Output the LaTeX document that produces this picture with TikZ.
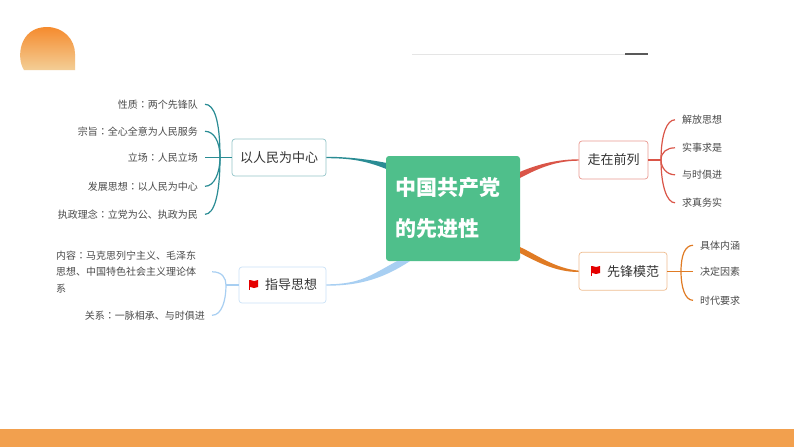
\documentclass[tikz,border=0pt]{standalone}
\usepackage{fontspec}
\setmainfont{Noto Sans CJK SC}
\newfontfamily\colonfont{Noto Sans CJK TC}
\newcommand{\cln}{{\colonfont ：}}
\newcommand{\toptxt}[1]{\raisebox{-1pt}{#1}}
\definecolor{rootgreen}{HTML}{4FBF8B}
\definecolor{tealline}{HTML}{2A8C94}
\definecolor{blueline}{HTML}{A8CFF2}
\definecolor{redline}{HTML}{DA5548}
\definecolor{orangeline}{HTML}{E07B24}
\definecolor{leafgray}{HTML}{4A4A4A}
\definecolor{suntop}{HTML}{F58B2E}
\definecolor{sunlow}{HTML}{F3CE96}
\definecolor{barorange}{HTML}{F2A04E}
\tikzset{
    topic/.style={draw,rounded corners=3pt,fill=white,inner xsep=0pt,inner ysep=0pt,
        font=\fontsize{13}{15}\selectfont,text=black!80,line width=.7pt},
    leafleft/.style={anchor=east,inner xsep=7pt,inner ysep=0pt,yshift=-.8pt,
        font=\fontsize{10}{16.5}\selectfont,text=leafgray},
    leafright/.style={anchor=west,inner xsep=7pt,inner ysep=0pt,yshift=-.8pt,
        font=\fontsize{10}{16.5}\selectfont,text=leafgray},
    twig/.style={line width=1.2pt},
    flagmark/.pic={
        \fill[red!90!black] (0,0) rectangle (1.2,10);
        \fill[red!90!black] (1.2,0) -- (5,1) -- (9,0) -- (9,7) -- (5,8) -- (1.2,7) -- cycle;
    }
}
\begin{document}
\begin{tikzpicture}[x=1pt,y=-1pt]
    \useasboundingbox (0,0) rectangle (794,447);
    \fill[white] (0,0) rectangle (794,447);
    \shade[top color=suntop,bottom color=sunlow]
        (24,70) .. controls (16,58) and (19,27) .. (47,27)
        .. controls (63,27) and (75,39) .. (75,54) -- (75,70) -- cycle;
    \draw[black!10,line width=.6pt] (412,54) -- (625,54);
    \draw[black!65,line width=1.8pt] (625,54) -- (648,54);
    \fill[barorange] (0,429) rectangle (794,447);

    \node[fill=rootgreen,rounded corners=3pt,minimum width=134pt,minimum height=105pt,
        text width=116pt,inner xsep=9pt,align=left,text=white,
        font=\fontsize{21}{40}\selectfont\bfseries] (root) at (453,208.5)
        {\raisebox{-1pt}{中国共产党}\\\raisebox{-2pt}{的先进性}};

    \node[topic,draw=tealline!50,minimum width=94pt,minimum height=37pt] (people) at (279,157.5) {\toptxt{以人民为中心}};
    \node[topic,draw=blueline!60,minimum width=87pt,minimum height=36pt] (guide) at (282.5,285) {\hspace*{17pt}\toptxt{指导思想}};
    \node[topic,draw=redline!60,minimum width=69pt,minimum height=38pt] (front) at (613.5,160) {\toptxt{走在前列}};
    \node[topic,draw=orangeline!50,minimum width=88pt,minimum height=38pt] (model) at (623,271.3) {\hspace*{20pt}\toptxt{先锋模范}};
    \pic at (249,280) {flagmark};
    \pic at (591,266) {flagmark};

    \coordinate (forka) at (220,157.5);
    \coordinate (forkb) at (226,285);
    \coordinate (forkc) at (661,160);
    \coordinate (forkd) at (681,271.3);

    % left upper
    \node[leafleft] (pa) at (205,103.5) {性质\cln 两个先锋队};
    \node[leafleft] (pb) at (205,130.5) {宗旨\cln 全心全意为人民服务};
    \node[leafleft] (pc) at (205,156.7) {立场\cln 人民立场};
    \node[leafleft] (pd) at (205,185.5) {发展思想\cln 以人民为中心};
    \node[leafleft] (pe) at (205,213.5) {执政理念\cln 立党为公、执政为民};
    \foreach \n/\d in {pa/-38,pb/-16,pd/16,pe/38}
        \draw[twig,tealline] (\n.east) .. controls +(9,0) and +(0,\d) .. (forka);
    \draw[twig,tealline] (pc.east) -- (people.west);

    % left lower
    \node[leafleft,text width=149pt,align=left,anchor=center] (ga) at (130.5,271) {内容\cln 马克思列宁主义、毛泽东\\思想、中国特色社会主义理论体\\系};
    \node[leafleft] (gb) at (212,314.5) {关系\cln 一脉相承、与时俱进};
    \draw[twig,blueline] (ga.east) .. controls +(10,0) and +(0,-7) .. (forkb);
    \draw[twig,blueline] (gb.east) .. controls +(10,0) and +(0,15) .. (forkb);
    \draw[twig,blueline] (forkb) -- (guide.west);

    % right upper
    \node[leafright] (fa) at (675,119) {解放思想};
    \node[leafright] (fb) at (675,147) {实事求是};
    \node[leafright] (fc) at (675,174) {与时俱进};
    \node[leafright] (fd) at (675,202) {求真务实};
    \foreach \n/\d in {fa/-26,fb/-8,fc/8,fd/26}
        \draw[twig,redline] (\n.west) .. controls +(-8,0) and +(0,\d) .. (forkc);
    \draw[twig,redline] (forkc) -- (front.east);

    % right lower
    \node[leafright] (ma) at (693,244.5) {具体内涵};
    \node[leafright] (mb) at (693,270.5) {决定因素};
    \node[leafright] (mc) at (693,299.5) {时代要求};
    \foreach \n/\d in {ma/-16,mc/16}
        \draw[twig,orangeline] (\n.west) .. controls +(-8,0) and +(0,\d) .. (forkd);
    \draw[twig,orangeline] (mb.west) -- (model.east);

    % thick branches
    \path[fill=tealline] ([yshift=.7pt]people.east) .. controls +(24,0) and +(-16,-3) .. ([yshift=-7pt]root.north west)
        -- ([yshift=-13pt]root.north west) .. controls +(-20,-8) and +(24,0) .. ([yshift=-.7pt]people.east) -- cycle;
    \path[fill=blueline] ([yshift=.7pt]guide.east) .. controls +(34,0) and +(-26,14) .. ([xshift=11pt]root.south west)
        -- ([xshift=24pt]root.south west) .. controls +(-26,17) and +(34,0) .. ([yshift=-.7pt]guide.east) -- cycle;
    \path[fill=redline] ([yshift=.7pt]front.west) .. controls +(-24,0) and +(14,-6) .. ([yshift=-16pt]root.north east)
        -- ([yshift=-22pt]root.north east) .. controls +(14,-7) and +(-26,0) .. ([yshift=-.7pt]front.west) -- cycle;
    \path[fill=orangeline] ([yshift=.7pt]model.west) .. controls +(-24,-2) and +(14,6) .. ([yshift=14pt]root.south east)
        -- ([yshift=8pt]root.south east) .. controls +(16,8) and +(-24,0) .. ([yshift=-.7pt]model.west) -- cycle;
\end{tikzpicture}
\end{document}
